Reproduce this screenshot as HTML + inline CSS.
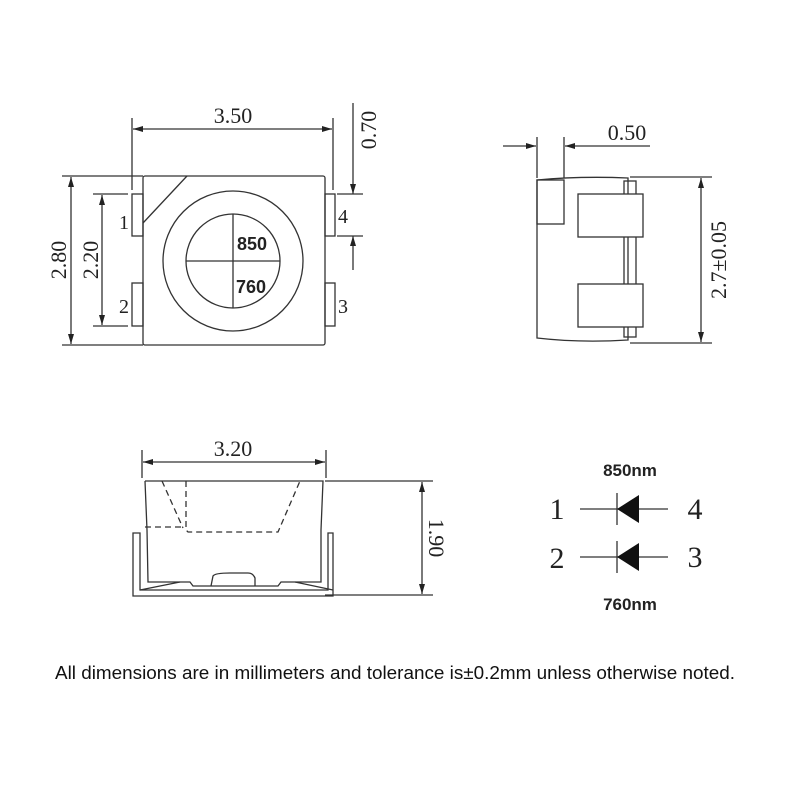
<!DOCTYPE html>
<html><head><style>body{margin:0;background:#fff}svg{display:block}</style></head><body>
<svg width="800" height="800" xmlns="http://www.w3.org/2000/svg" font-family="Liberation Serif, serif">
<defs><marker id="a" viewBox="0 0 10 6" refX="10" refY="3" markerWidth="10" markerHeight="6" orient="auto-start-reverse" markerUnits="userSpaceOnUse"><path d="M0,0L10,3L0,6z" fill="#222"/></marker></defs>
<g stroke="#333" stroke-width="1.3" fill="none">
<!-- top view -->
<rect x="143" y="176" width="182" height="169" rx="2"/>
<line x1="187" y1="176" x2="143" y2="223"/>
<rect x="132" y="194" width="11" height="42"/><rect x="132" y="283" width="11" height="43"/>
<rect x="325" y="194" width="10" height="42"/><rect x="325" y="283" width="10" height="43"/>
<circle cx="233" cy="261" r="70"/><circle cx="233" cy="261" r="47"/>
<line x1="233" y1="214" x2="233" y2="308"/><line x1="186" y1="261" x2="280" y2="261"/>
<line x1="132" y1="118" x2="132" y2="190"/><line x1="333" y1="118" x2="333" y2="190"/>
<line x1="133" y1="129" x2="332" y2="129" marker-start="url(#a)" marker-end="url(#a)"/>
<line x1="353" y1="103" x2="353" y2="194" marker-end="url(#a)"/><line x1="353" y1="270" x2="353" y2="236" marker-end="url(#a)"/>
<line x1="337" y1="194" x2="363" y2="194"/><line x1="337" y1="236" x2="363" y2="236"/>
<line x1="62" y1="176" x2="143" y2="176"/><line x1="62" y1="345" x2="143" y2="345"/>
<line x1="71" y1="177" x2="71" y2="344" marker-start="url(#a)" marker-end="url(#a)"/>
<line x1="93" y1="194" x2="128" y2="194"/><line x1="93" y1="326" x2="128" y2="326"/>
<line x1="102" y1="195" x2="102" y2="325" marker-start="url(#a)" marker-end="url(#a)"/>
<!-- side view -->
<path d="M537,180 Q580,176 628,178 L628,340 Q580,343 537,338 Z"/>
<rect x="537" y="180" width="27" height="44"/>
<rect x="624" y="181" width="12" height="156"/>
<rect x="578" y="194" width="65" height="43" fill="#fff"/><rect x="578" y="284" width="65" height="43" fill="#fff"/>
<line x1="537" y1="137" x2="537" y2="178"/><line x1="564" y1="137" x2="564" y2="178"/>
<line x1="503" y1="146" x2="536" y2="146" marker-end="url(#a)"/><line x1="650" y1="146" x2="565" y2="146" marker-end="url(#a)"/>
<line x1="630" y1="177" x2="712" y2="177"/><line x1="630" y1="343" x2="712" y2="343"/>
<line x1="701" y1="178" x2="701" y2="342" marker-start="url(#a)" marker-end="url(#a)"/>
<!-- front view -->
<path d="M145,481 L323,481 L321,530 M145,481 L147,530"/>
<path d="M162,481 L183,528 M186,481 L186,530 L188,532 L278,532 L300,481" stroke-dasharray="6,4"/>
<line x1="145" y1="527" x2="183" y2="527" stroke-dasharray="6,4"/>
<path d="M133,533 L133,596 L333,596 L333,533 L328,533 L328,590 L140,590 L140,533 Z"/>
<path d="M147,530 L148,582 L190,582 L193,586 L278,586 L281,582 L321,582 L321,530"/>
<path d="M211,586 L213,576 Q215,573 230,573 L248,573 Q253,573 255,578 L255,586"/>
<path d="M140,590 L180,582 M333,590 L295,582"/>
<line x1="142" y1="450" x2="142" y2="478"/><line x1="326" y1="450" x2="326" y2="478"/>
<line x1="143" y1="462" x2="325" y2="462" marker-start="url(#a)" marker-end="url(#a)"/>
<line x1="325" y1="481" x2="433" y2="481"/><line x1="325" y1="595" x2="433" y2="595"/>
<line x1="422" y1="482" x2="422" y2="594" marker-start="url(#a)" marker-end="url(#a)"/>
<!-- diodes -->
<line x1="580" y1="509" x2="668" y2="509"/><line x1="617" y1="493" x2="617" y2="525"/>
<line x1="580" y1="557" x2="668" y2="557"/><line x1="617" y1="541" x2="617" y2="573"/>
</g>
<path d="M617,509 L639,495 L639,523 Z" fill="#111"/>
<path d="M617,557 L639,543 L639,571 Z" fill="#111"/>
<g fill="#222" font-size="22">
<text x="233" y="123" text-anchor="middle">3.50</text>
<text x="233" y="456" text-anchor="middle">3.20</text>
<text x="627" y="140" text-anchor="middle">0.50</text>
<text x="124" y="229" text-anchor="middle" font-size="20">1</text>
<text x="124" y="313" text-anchor="middle" font-size="20">2</text>
<text x="343" y="223" text-anchor="middle" font-size="20">4</text>
<text x="343" y="313" text-anchor="middle" font-size="20">3</text>
<text transform="translate(376,130) rotate(-90)" text-anchor="middle">0.70</text>
<text transform="translate(66,260) rotate(-90)" text-anchor="middle">2.80</text>
<text transform="translate(98,260) rotate(-90)" text-anchor="middle">2.20</text>
<text transform="translate(726,260) rotate(-90)" text-anchor="middle">2.7±0.05</text>
<text transform="translate(429,538) rotate(90)" text-anchor="middle">1.90</text>
<text x="557" y="519" text-anchor="middle" font-size="30">1</text>
<text x="695" y="519" text-anchor="middle" font-size="30">4</text>
<text x="557" y="568" text-anchor="middle" font-size="30">2</text>
<text x="695" y="567" text-anchor="middle" font-size="30">3</text>
</g>
<g fill="#111" font-family="Liberation Sans, DejaVu Sans, sans-serif">
<text x="237" y="250" font-size="18" font-weight="bold" fill="#222">850</text>
<text x="236" y="293" font-size="18" font-weight="bold" fill="#222">760</text>
<text x="630" y="476" text-anchor="middle" font-size="17" font-weight="bold" fill="#222">850nm</text>
<text x="630" y="610" text-anchor="middle" font-size="17" font-weight="bold" fill="#222">760nm</text>
<text x="55" y="679" font-size="18" textLength="680" lengthAdjust="spacingAndGlyphs">All dimensions are in millimeters and tolerance is±0.2mm unless otherwise noted.</text>
</g>
</svg>
</body></html>
